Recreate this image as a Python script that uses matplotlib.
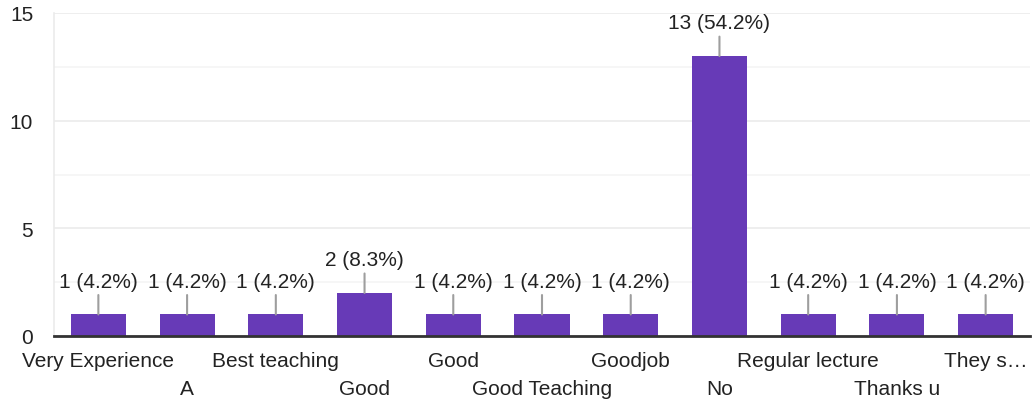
import matplotlib.pyplot as plt
from matplotlib.ticker import MultipleLocator

categories = ["Very Experience", "A", "Best teaching", "Good", "Good",
              "Good Teaching", "Goodjob", "No", "Regular lecture",
              "Thanks u", "They s…"]
counts = [1, 1, 1, 2, 1, 1, 1, 13, 1, 1, 1]
percents = ["4.2%", "4.2%", "4.2%", "8.3%", "4.2%", "4.2%", "4.2%",
            "54.2%", "4.2%", "4.2%", "4.2%"]
yticks = [0, 5, 10, 15]

plt.rcParams['font.family'] = ['Liberation Sans', 'DejaVu Sans']
text_color = '#222222'

fig = plt.figure(figsize=(10.32, 4.06), dpi=100)
ax = fig.add_axes([54 / 1032, 1 - 337 / 406, (1030 - 54) / 1032, (337 - 14) / 406])

x = list(range(len(categories)))
ax.bar(x, counts, width=0.62, color='#673ab7', zorder=3)

for i, (c, p) in enumerate(zip(counts, percents)):
    ax.annotate(f"{c} ({p})", xy=(i, c), xytext=(0, 17), textcoords='offset points',
                ha='center', va='bottom', fontsize=15, color=text_color,
                arrowprops=dict(arrowstyle='-', color='#9e9e9e', lw=1.5,
                                shrinkA=1, shrinkB=0), zorder=4)

ax.set_xlim(-0.5, len(categories) - 0.5)
ax.set_ylim(0, 15)

ax.set_xticks(x)
ax.set_xticklabels(categories, fontsize=15, color=text_color)
ax.tick_params(axis='x', length=0, pad=11)
# alternate rows for the category labels
for i, t in enumerate(ax.xaxis.get_major_ticks()):
    if i % 2 == 1:
        t.set_pad(31)

ax.set_yticks(yticks)
ax.set_yticklabels([str(v) for v in yticks], fontsize=15, color=text_color)
ax.tick_params(axis='y', length=0, pad=15)
ax.yaxis.set_minor_locator(MultipleLocator(2.5))
ax.tick_params(axis='y', which='minor', length=0)

ax.grid(axis='y', which='major', color='#ebebeb', lw=1.2, zorder=0)
ax.grid(axis='y', which='minor', color='#f5f5f5', lw=1.2, zorder=0)

for s in ['top', 'right']:
    ax.spines[s].set_visible(False)
ax.spines['left'].set_color('#ebebeb')
ax.spines['left'].set_linewidth(1.2)
ax.spines['bottom'].set_color('#333333')
ax.spines['bottom'].set_linewidth(2)
ax.spines['bottom'].set_zorder(5)

fig.savefig('out.png', dpi=100)
